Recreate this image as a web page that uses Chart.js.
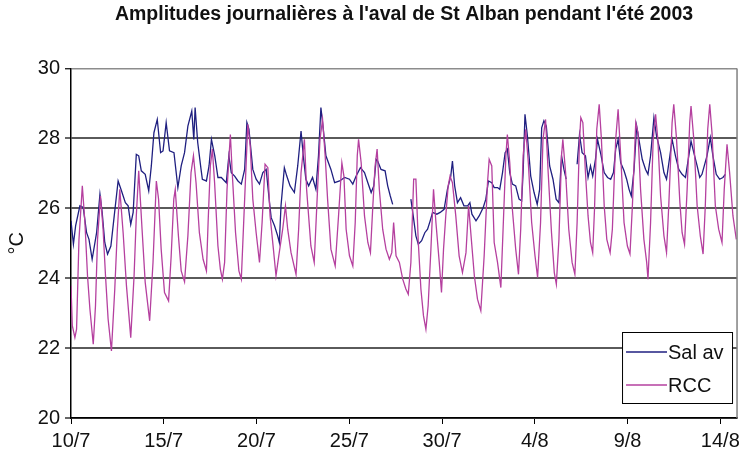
<!DOCTYPE html>
<html lang="fr">
<head>
<meta charset="utf-8">
<title>Amplitudes journalières - St Alban 2003</title>
<script src="https://cdn.jsdelivr.net/npm/chart.js@4.4.1/dist/chart.umd.min.js"></script>
<style>
  html, body { margin: 0; padding: 0; background: #fff; }
  #wrap { width: 745px; height: 460px; }
</style>
</head>
<body>
<div id="wrap"><canvas id="tempChart" width="745" height="460"></canvas></div>
<script>
// Données : temps en jours depuis le 10/7 (0h), températures en °C
const chartTitle  = "Amplitudes journalières à l'aval de St Alban pendant l'été 2003";
const yLabel      = '°C';
const seriesNames = ['Sal av', 'RCC'];
const xTickDays   = [0, 5, 10, 15, 20, 25, 30, 35];
const xTickLabels = ['10/7', '15/7', '20/7', '25/7', '30/7', '4/8', '9/8', '14/8'];
const yTickValues = [20, 22, 24, 26, 28, 30];

// Sal av (null = trou dans la mesure)
const salDays = [
  0, 0.13, 0.25, 0.48, 0.66, 0.84, 0.97,
  1.14, 1.38, 1.56, 1.68, 1.82, 1.97,
  2.15, 2.33, 2.54, 2.72, 2.93,
  3.08, 3.22, 3.35, 3.52, 3.65, 3.79,
  4.0, 4.19, 4.33, 4.47, 4.65, 4.83, 4.96,
  5.13, 5.31, 5.55, 5.76, 5.94,
  6.12, 6.3, 6.51, 6.62, 6.69, 6.83,
  7.01, 7.08, 7.3, 7.44, 7.57, 7.75, 7.92,
  8.1, 8.37, 8.51, 8.64, 8.82,
  9.0, 9.18, 9.36, 9.48, 9.59, 9.8, 9.98,
  10.16, 10.34, 10.52, 10.7, 10.79, 10.97,
  11.14, 11.23, 11.32, 11.5, 11.63, 11.81,
  12.04, 12.22, 12.4, 12.52, 12.66, 12.81,
  13.02, 13.2, 13.34, 13.47, 13.6, 13.74,
  14.01, 14.21, 14.48, 14.75,
  15.01, 15.19, 15.37, 15.6, 15.82,
  16.0, 16.18, 16.32, 16.45, 16.53, 16.71, 16.93,
  17.07, 17.21, 17.34, 17.8,
  18.32, 18.47, 18.59, 18.72, 18.9,
  19.07, 19.22, 19.36, 19.49, 19.72, 19.9,
  20.11, 20.29, 20.47, 20.56, 20.68, 20.83,
  21.0, 21.18, 21.38, 21.5, 21.61, 21.83,
  22.0, 22.22, 22.36, 22.5, 22.68, 22.81, 22.99,
  23.11, 23.26, 23.4, 23.52, 23.65, 23.79, 23.97,
  24.15, 24.29, 24.37, 24.47, 24.6, 24.78, 24.96,
  25.13, 25.26, 25.37, 25.49, 25.62, 25.8, 25.98,
  26.15, 26.3, 26.44, 26.57, 26.69, 27.0,
  27.28, 27.41, 27.55, 27.73, 27.87,
  28.0, 28.12, 28.27, 28.38, 28.56, 28.74, 28.92,
  29.09, 29.24, 29.36, 29.49, 29.63, 29.81, 29.95,
  30.08, 30.2, 30.35, 30.49, 30.61, 30.79, 30.97,
  31.1, 31.24, 31.42, 31.56, 31.78, 31.96,
  32.1, 32.28, 32.4, 32.58, 32.76, 32.94,
  33.12, 33.3, 33.42, 33.57, 33.75, 33.89,
  34.01, 34.28, 34.46, 34.6, 34.78, 34.96,
  35.14, 35.27
];
const salTemps = [
  25.64, 24.97, 25.50, 26.07, 26.02, 25.30, 25.11,
  24.54, 25.30, 26.40, 25.88, 25.02, 24.69,
  24.92, 25.78, 26.78, 26.50, 26.16,
  26.07, 25.54, 25.88, 27.54, 27.50, 27.07,
  26.97, 26.50, 27.21, 28.16, 28.54, 27.59, 27.64,
  28.45, 27.64, 27.59, 26.59, 27.21,
  27.59, 28.35, 28.78, 27.97, 28.88, 27.88,
  27.11, 26.83, 26.78, 27.21, 27.97, 27.50, 26.88,
  26.88, 26.73, 27.50, 27.02, 26.92,
  26.78, 26.69, 27.11, 28.45, 28.26, 27.11, 26.83,
  26.69, 27.02, 27.11, 26.16, 25.73, 25.50,
  25.21, 25.02, 26.07, 27.16, 26.92, 26.64,
  26.45, 27.21, 28.21, 27.50, 26.83, 26.64,
  26.88, 26.54, 27.50, 28.88, 28.26, 27.50,
  27.11, 26.73, 26.78, 26.88,
  26.83, 26.69, 26.92, 27.16, 27.02,
  26.73, 26.45, 26.64, 27.40, 27.35, 27.11, 27.07,
  26.64, 26.35, 26.11, null,
  26.26, 25.69, 25.21, 24.97, 25.07,
  25.30, 25.40, 25.64, 25.88, 25.83, 25.88,
  25.97, 26.54, 26.92, 27.35, 26.64, 26.16,
  26.30, 26.07, 26.07, 26.16, 25.83, 25.64,
  25.78, 26.02, 26.26, 26.78, 26.73, 26.59, 26.59,
  26.54, 27.02, 27.59, 27.69, 27.02, 26.69, 26.64,
  26.26, 26.21, 27.02, 28.69, 28.07, 26.92, 26.45,
  26.11, 26.54, 28.30, 28.50, 28.35, 27.21, 26.83,
  26.26, 26.16, 27.50, 27.11, 26.83, null,
  27.26, 28.11, 27.59, 27.50, 26.88,
  27.21, 26.92, 27.40, 27.97, 27.54, 27.02, 26.88,
  26.83, 27.02, 27.69, 27.97, 27.30, 27.07, 26.83,
  26.54, 26.35, 27.11, 28.35, 27.97, 27.40, 27.11,
  26.97, 27.50, 28.59, 28.07, 27.59, 27.02,
  26.83, 27.50, 27.97, 27.50, 27.11, 26.97,
  26.88, 27.50, 27.92, 27.59, 27.21, 26.88,
  26.97, 27.50, 28.02, 27.50, 26.97, 26.83,
  26.88, 26.97
];

// RCC
const rccDays = [
  0, 0.07, 0.21, 0.3, 0.43, 0.61, 0.75, 0.89,
  1.02, 1.2, 1.32, 1.43, 1.59, 1.73, 1.86,
  2.0, 2.18, 2.36, 2.5, 2.63, 2.81, 2.99,
  3.22, 3.4, 3.52, 3.65, 3.83,
  4.0, 4.24, 4.42, 4.6, 4.72, 4.86,
  5.04, 5.26, 5.4, 5.54, 5.62, 5.79, 5.94,
  6.12, 6.3, 6.47, 6.6, 6.74, 6.92,
  7.12, 7.3, 7.39, 7.51, 7.62, 7.74, 7.92,
  8.05, 8.16, 8.28, 8.41, 8.59, 8.69, 8.87,
  9.05, 9.18, 9.36, 9.53, 9.66, 9.8, 9.98,
  10.16, 10.3, 10.46, 10.61, 10.73, 10.91,
  11.05, 11.2, 11.41, 11.56, 11.68, 11.86,
  12.13, 12.27, 12.4, 12.58, 12.7, 12.93,
  13.11, 13.29, 13.42, 13.56, 13.7, 13.83,
  14.01, 14.24, 14.42, 14.6, 14.71, 14.83,
  15.01, 15.19, 15.32, 15.43, 15.5, 15.64, 15.82,
  16.0, 16.14, 16.27, 16.39, 16.5, 16.62, 16.8, 16.98,
  17.16, 17.29, 17.39, 17.52, 17.7, 17.88,
  18.05, 18.18, 18.32, 18.47, 18.59, 18.72, 18.86,
  19.0, 19.13, 19.25, 19.4, 19.54, 19.67, 19.85, 19.97,
  20.08, 20.2, 20.33, 20.43, 20.56, 20.74, 20.92,
  21.1, 21.29, 21.43, 21.74, 21.91,
  22.09, 22.27, 22.45, 22.54, 22.68, 22.81, 22.99,
  23.17, 23.29, 23.44, 23.52, 23.65, 23.79, 23.97,
  24.12, 24.24, 24.37, 24.51, 24.65, 24.83,
  25.01, 25.15, 25.31, 25.44, 25.58, 25.72, 25.9,
  26.05, 26.16, 26.3, 26.44, 26.51, 26.66, 26.83,
  27.01, 27.16, 27.28, 27.41, 27.48, 27.59, 27.73, 27.87,
  28.0, 28.12, 28.22, 28.34, 28.47, 28.59, 28.74, 28.88,
  29.06, 29.18, 29.36, 29.49, 29.63, 29.81, 29.99,
  30.13, 30.26, 30.44, 30.56, 30.7, 30.88,
  31.03, 31.1, 31.24, 31.38, 31.51, 31.63, 31.78, 31.96,
  32.1, 32.22, 32.4, 32.49, 32.64, 32.82, 32.94,
  33.07, 33.21, 33.35, 33.42, 33.57, 33.75, 33.92,
  34.07, 34.19, 34.32, 34.43, 34.55, 34.73, 34.91,
  35.09, 35.21, 35.36, 35.5, 35.68, 35.86
];
const rccTemps = [
  23.78, 22.64, 22.30, 22.54, 25.11, 26.64, 25.59, 24.07,
  23.11, 22.11, 23.21, 25.11, 26.35, 25.40, 24.07,
  22.83, 21.92, 23.69, 25.40, 26.54, 25.30, 23.78,
  22.30, 24.07, 25.78, 27.07, 25.40,
  23.88, 22.78, 24.45, 26.78, 26.26, 24.83,
  23.59, 23.35, 24.64, 26.26, 26.54, 25.21, 24.21,
  23.90, 25.21, 27.02, 27.50, 26.73, 25.30,
  24.54, 24.21, 25.59, 27.21, 27.69, 26.73, 24.92,
  24.26, 23.97, 24.45, 26.54, 28.11, 27.02, 25.30,
  24.21, 23.97, 26.26, 28.40, 27.78, 26.26, 25.30,
  24.45, 25.59, 27.26, 27.16, 25.78, 24.83,
  24.07, 24.64, 25.40, 26.07, 25.40, 24.73,
  24.11, 25.40, 27.02, 27.97, 26.54, 24.92,
  24.45, 26.54, 27.97, 28.54, 27.50, 26.26,
  24.83, 24.35, 25.78, 27.30, 26.92, 25.40,
  24.64, 24.35, 25.59, 27.50, 27.97, 27.30, 25.78,
  25.02, 24.73, 26.07, 27.21, 27.69, 26.54, 25.40, 24.83,
  24.54, 24.73, 25.59, 24.64, 24.45, 23.97,
  23.69, 23.54, 24.45, 26.83, 26.83, 25.02, 23.69,
  22.92, 22.54, 23.21, 24.83, 26.54, 25.59, 24.45, 23.59,
  24.83, 25.78, 26.64, 26.92, 26.73, 25.78, 24.64,
  24.16, 24.73, 26.07, 24.07, 23.40,
  23.07, 24.64, 26.73, 27.40, 27.21, 25.02, 24.45,
  23.73, 25.40, 27.50, 28.11, 27.30, 25.97, 24.83,
  24.11, 25.40, 27.50, 28.26, 27.30, 25.59,
  24.64, 24.02, 25.59, 27.97, 28.54, 27.02, 25.30,
  24.16, 23.83, 25.11, 27.50, 27.97, 27.02, 25.40,
  24.45, 24.11, 25.59, 27.97, 28.59, 28.45, 27.02, 25.78,
  25.02, 24.73, 26.00, 28.26, 28.97, 27.97, 26.07, 25.11,
  24.73, 25.40, 27.97, 28.83, 27.50, 25.59, 24.92,
  24.69, 26.07, 28.45, 28.16, 26.54, 25.11,
  24.45, 23.97, 25.59, 27.97, 28.69, 27.97, 26.35, 25.21,
  24.73, 26.07, 28.45, 28.97, 27.97, 26.16, 25.30,
  24.97, 26.54, 28.45, 28.92, 27.97, 26.07, 25.21,
  24.69, 26.07, 28.26, 28.97, 28.16, 26.07, 25.40,
  25.02, 26.54, 27.83, 27.02, 25.78, 25.11
];

const seriesColors = ['#1f1f80', '#b5409f'];
const FONT = "'Liberation Sans', Arial, sans-serif";

(function () {
  const canvas = document.getElementById('tempChart');
  if (!canvas) return;

  const toPoints = (days, temps) => days.map((d, i) => ({ x: d, y: temps[i] }));

  // Cadre droit + légende dans la zone de tracé (en bas à droite)
  const frameLegend = {
    id: 'frameLegend',
    afterDraw(chart) {
      const { ctx, chartArea: a } = chart;
      ctx.save();
      ctx.strokeStyle = '#808080';
      ctx.lineWidth = 1.5;
      ctx.beginPath();
      ctx.moveTo(a.right, a.top);
      ctx.lineTo(a.right, a.bottom);
      ctx.stroke();

      const bx = a.right - 115, by = a.bottom - 86, bw = 110, bh = 71;
      ctx.fillStyle = '#fff';
      ctx.fillRect(bx, by, bw, bh);
      ctx.strokeStyle = '#000';
      ctx.lineWidth = 1;
      ctx.strokeRect(bx + 0.5, by + 0.5, bw, bh);

      ctx.font = `20px ${FONT}`;
      ctx.textBaseline = 'middle';
      chart.data.datasets.forEach((ds, i) => {
        const y = by + 20 + i * 33;
        ctx.strokeStyle = ds.borderColor;
        ctx.lineWidth = 1.3;
        ctx.beginPath();
        ctx.moveTo(bx + 4, y);
        ctx.lineTo(bx + 45, y);
        ctx.stroke();
        ctx.fillStyle = '#111';
        ctx.fillText(ds.label, bx + 46, y + 1);
      });
      ctx.restore();
    }
  };

  new Chart(canvas, {
    type: 'line',
    data: {
      datasets: [
        { label: seriesNames[0], data: toPoints(salDays, salTemps), borderColor: seriesColors[0], order: 1 },
        { label: seriesNames[1], data: toPoints(rccDays, rccTemps), borderColor: seriesColors[1], order: 0 }
      ]
    },
    options: {
      responsive: false,
      devicePixelRatio: 1,
      animation: false,
      layout: { padding: { left: 0, right: 7, top: 0, bottom: 0 } },
      elements: {
        line: { borderWidth: 1.3, tension: 0, fill: false },
        point: { radius: 0, hoverRadius: 0 }
      },
      spanGaps: false,
      scales: {
        x: {
          type: 'linear',
          min: 0,
          max: 35.9,
          afterBuildTicks: (s) => { s.ticks = xTickDays.map(v => ({ value: v })); },
          afterFit: (s) => { s.height = 42; },
          ticks: {
            autoSkip: false,
            maxRotation: 0,
            padding: 5,
            color: '#111',
            font: { family: FONT, size: 20 },
            callback: (v) => xTickLabels[xTickDays.indexOf(v)] ?? ''
          },
          grid: { drawOnChartArea: false, drawTicks: true, tickLength: 6, tickColor: '#000', color: '#000' },
          border: { color: '#000', width: 1.5 }
        },
        y: {
          min: 20,
          max: 30,
          afterBuildTicks: (s) => { s.ticks = yTickValues.map(v => ({ value: v })); },
          afterFit: (s) => { s.width = 71; },
          ticks: {
            padding: 5,
            color: '#111',
            font: { family: FONT, size: 20 }
          },
          grid: {
            color: (c) => c.tick && c.tick.value === 30 ? '#8c8c8c' : '#5a5a5a',
            lineWidth: (c) => c.tick && c.tick.value === 30 ? 1.5 : 2,
            tickLength: 6,
            tickColor: '#000',
            tickWidth: 1.2
          },
          border: { color: '#000', width: 1.5 },
          title: {
            display: true,
            text: yLabel,
            color: '#111',
            font: { family: FONT, size: 20 },
            padding: { top: 5, bottom: 0 }
          }
        }
      },
      plugins: {
        legend: { display: false },
        tooltip: { enabled: false },
        title: {
          display: true,
          text: chartTitle,
          fullSize: false,
          color: '#111',
          font: { family: FONT, size: 19.5, weight: 'bold' },
          padding: { top: 3, bottom: 42 }
        }
      }
    },
    plugins: [frameLegend]
  });
})();
</script>
</body>
</html>
